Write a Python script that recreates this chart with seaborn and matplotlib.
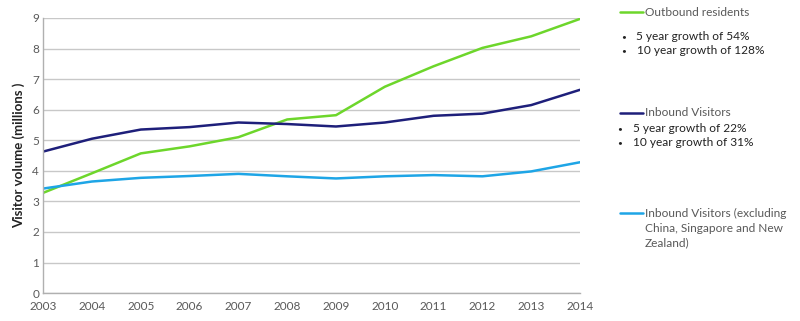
import matplotlib
matplotlib.use("Agg")
import matplotlib.pyplot as plt
import seaborn as sns
import pandas as pd

years = [2003, 2004, 2005, 2006, 2007, 2008, 2009, 2010, 2011, 2012, 2013, 2014]
outbound = [3.28, 3.92, 4.57, 4.80, 5.10, 5.68, 5.82, 6.75, 7.42, 8.02, 8.40, 8.97]
inbound = [4.63, 5.05, 5.35, 5.43, 5.58, 5.53, 5.45, 5.58, 5.80, 5.87, 6.15, 6.65]
inbound_excl = [3.42, 3.65, 3.77, 3.83, 3.90, 3.82, 3.75, 3.82, 3.86, 3.82, 3.98, 4.28]
series_names = ["Outbound residents", "Inbound Visitors", "Inbound Visitors excl"]
colors = ["#6DD62B", "#1E1F7A", "#1EA5E6"]

df = pd.concat([
    pd.DataFrame({"year": years, "value": vals, "series": name})
    for name, vals in zip(series_names, [outbound, inbound, inbound_excl])
])

sns.set_theme(style="white")
plt.rcParams['font.family'] = ['Lato', 'DejaVu Sans']

fig = plt.figure(figsize=(8, 3.21), dpi=100)
ax = fig.add_axes([0.054, 0.087, 0.671, 0.857])
sns.lineplot(data=df, x="year", y="value", hue="series", palette=colors,
             hue_order=series_names, linewidth=1.8, ax=ax, legend=False)

ax.set_xlim(2003, 2014)
ax.set_ylim(0, 9)
ax.set_xticks(years)
ax.set_yticks(range(0, 10))
ax.tick_params(axis='both', labelsize=8.5, colors='#595959', length=0, pad=3)
ax.tick_params(axis='x', length=4, color='#b0b0b0', direction='out', pad=2)
ax.yaxis.grid(True, color='#c8c8c8', linewidth=1)
ax.xaxis.grid(False)
for s in ['top', 'right']:
    ax.spines[s].set_visible(False)
for s in ['left', 'bottom']:
    ax.spines[s].set_color('#b0b0b0')
    ax.spines[s].set_linewidth(1)
ax.set_xlabel("")
ax.set_ylabel("Visitor volume (millions )", fontsize=9.5, fontweight='bold', color='#222222', labelpad=5)

# annotations on the right
def legline(y, color):
    fig.add_artist(plt.Line2D([620/800, 643/800], [1 - y/321, 1 - y/321],
                              color=color, linewidth=1.8, transform=fig.transFigure))

def txt(x, y, s, color='#595959', size=8.6):
    fig.text(x/800, 1 - y/321, s, fontsize=size, color=color, va='center', ha='left')

legline(12, colors[0])
txt(645, 12, "Outbound residents")
txt(621, 37, "•", '#222222', 6)
txt(636, 37, "5 year growth of 54%", '#222222')
txt(621, 51, "•", '#222222', 6)
txt(637, 51, "10 year growth of 128%", '#222222')

legline(113, colors[1])
txt(645, 113, "Inbound Visitors")
txt(617, 129, "•", '#222222', 6)
txt(633, 129, "5 year growth of 22%", '#222222')
txt(617, 143, "•", '#222222', 6)
txt(633, 143, "10 year growth of 31%", '#222222')

legline(213, colors[2])
txt(645, 213, "Inbound Visitors (excluding")
txt(645, 228, "China, Singapore and New")
txt(645, 243, "Zealand)")

fig.savefig("out.png", dpi=100)
